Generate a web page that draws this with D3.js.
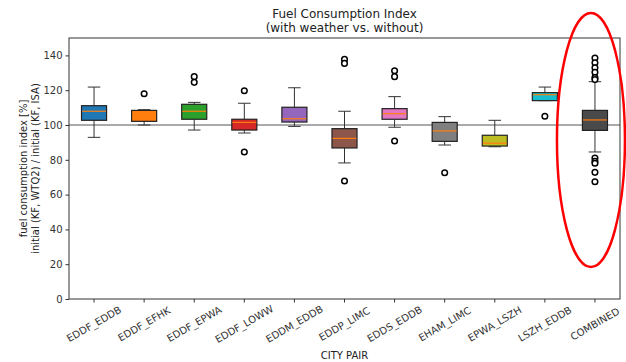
<!DOCTYPE html>
<html>
<head>
<meta charset="utf-8">
<script src="https://cdn.jsdelivr.net/npm/d3@7"></script>
<style>
  body { margin: 0; background: #fff; }
  text { font-family: 'DejaVu Sans', sans-serif; fill: #222; }
</style>
</head>
<body>
<div id="chart"></div>
<script>
const categories = ['EDDF_EDDB', 'EDDF_EFHK', 'EDDF_EPWA', 'EDDF_LOWW', 'EDDM_EDDB', 'EDDP_LIMC',
  'EDDS_EDDB', 'EHAM_LIMC', 'EPWA_LSZH', 'LSZH_EDDB', 'COMBINED']
const whiskerLow = [92.9, 100, 97.1, 95.4, 99.2, 78.2, 98.7, 88.5, 87.5, 114, 84.5]
const q1 = [102.7, 102.1, 103.3, 97.1, 101.7, 86.8, 103.3, 90.6, 87.9, 114, 96.9]
const median = [107.9, 104.4, 107.9, 101.5, 103.6, 92.3, 106.5, 96.6, 89.5, 117.4, 102.9]
const q3 = [111.1, 108.4, 111.9, 103.3, 110.2, 97.9, 109.4, 101.5, 94.1, 118.6, 108.4]
const whiskerHigh = [121.8, 108.8, 113, 112.5, 121.4, 107.9, 116.3, 104.8, 102.7, 121.8, 124.9]
const outliers = [
  [],
  [118],
  [127.8, 124.5],
  [119.7, 84.5],
  [],
  [137.7, 135.4, 67.8],
  [131.2, 127.8, 90.8],
  [72.6],
  [],
  [105],
  [138.5, 135.8, 132.9, 130.3, 127.2, 126.1, 81, 79.1, 78, 72.8, 67.4]
]
const boxColors = ['#1f77b4', '#ff7f0e', '#2ca02c', '#d62728', '#9467bd', '#8c564b',
  '#e377c2', '#7f7f7f', '#bcbd22', '#17becf', '#4a4a4a']
const yTicks = [0, 20, 40, 60, 80, 100, 120, 140]
const referenceLevel = 100

const canvasWidth = 626
const canvasHeight = 362
const margins = {top: 38, right: 6, bottom: 63, left: 69}
const width = canvasWidth - margins.left - margins.right
const height = canvasHeight - margins.top - margins.bottom

const svg = d3.select('#chart')
  .append('svg')
  .attr('width', canvasWidth)
  .attr('height', canvasHeight)

const g = svg.append('g')
  .attr('transform', `translate(${margins.left}, ${margins.top})`)

const xScale = d3.scaleBand()
  .domain(categories)
  .range([0, width])

const yScale = d3.scaleLinear()
  .domain([0, 150])
  .range([height, 0])

const boxWidth = xScale.bandwidth() * 0.5
const capWidth = boxWidth * 0.5

// y axis
const yAxis = g.append('g')
  .call(d3.axisLeft(yScale).tickValues(yTicks).tickSize(3.5).tickPadding(3))
yAxis.select('.domain').remove()
yAxis.selectAll('text').attr('font-size', 10).style('fill', '#333')
yAxis.selectAll('line').attr('stroke', '#333')

// x axis
const xAxis = g.append('g')
  .attr('transform', `translate(0, ${height})`)
  .call(d3.axisBottom(xScale).tickSize(3.5).tickFormat(''))
xAxis.select('.domain').remove()
xAxis.selectAll('line').attr('stroke', '#333')

g.append('g')
  .selectAll('text')
  .data(categories)
  .enter()
  .append('text')
  .attr('transform', d => `translate(${xScale(d) + xScale.bandwidth() / 2}, ${height + 25}) rotate(-30)`)
  .attr('text-anchor', 'middle')
  .attr('dominant-baseline', 'central')
  .attr('font-size', 10)
  .style('fill', '#333')
  .text(d => d)

// reference line at 100
g.append('line')
  .attr('x1', 0)
  .attr('x2', width)
  .attr('y1', yScale(referenceLevel))
  .attr('y2', yScale(referenceLevel))
  .attr('stroke', '#555')
  .attr('stroke-width', 1)

// boxes
const boxes = g.selectAll('g.box')
  .data(categories.map((c, i) => ({c, i})))
  .enter()
  .append('g')
  .attr('class', 'box')
  .attr('transform', d => `translate(${xScale(d.c) + xScale.bandwidth() / 2}, 0)`)

boxes.append('line')
  .attr('y1', d => yScale(q3[d.i]))
  .attr('y2', d => yScale(whiskerHigh[d.i]))
  .attr('stroke', '#333')
boxes.append('line')
  .attr('y1', d => yScale(q1[d.i]))
  .attr('y2', d => yScale(whiskerLow[d.i]))
  .attr('stroke', '#333')
boxes.append('line')
  .attr('x1', -capWidth / 2)
  .attr('x2', capWidth / 2)
  .attr('y1', d => yScale(whiskerHigh[d.i]))
  .attr('y2', d => yScale(whiskerHigh[d.i]))
  .attr('stroke', '#333')
boxes.append('line')
  .attr('x1', -capWidth / 2)
  .attr('x2', capWidth / 2)
  .attr('y1', d => yScale(whiskerLow[d.i]))
  .attr('y2', d => yScale(whiskerLow[d.i]))
  .attr('stroke', '#333')

boxes.append('rect')
  .attr('x', -boxWidth / 2)
  .attr('width', boxWidth)
  .attr('y', d => yScale(q3[d.i]))
  .attr('height', d => yScale(q1[d.i]) - yScale(q3[d.i]))
  .attr('fill', d => boxColors[d.i])
  .attr('stroke', '#222')
  .attr('stroke-width', 1.2)

boxes.append('line')
  .attr('x1', -boxWidth / 2 + 0.6)
  .attr('x2', boxWidth / 2 - 0.6)
  .attr('y1', d => yScale(median[d.i]))
  .attr('y2', d => yScale(median[d.i]))
  .attr('stroke', '#ff7f0e')
  .attr('stroke-width', 1.2)

boxes.selectAll('circle')
  .data(d => outliers[d.i])
  .enter()
  .append('circle')
  .attr('cy', v => yScale(v))
  .attr('r', 2.8)
  .attr('fill', '#fff')
  .attr('stroke', '#000')
  .attr('stroke-width', 1.5)

// frame
g.append('rect')
  .attr('width', width)
  .attr('height', height)
  .attr('fill', 'none')
  .attr('stroke', '#333')
  .attr('stroke-width', 1)

// titles
svg.append('text')
  .attr('x', margins.left + width / 2)
  .attr('y', 18)
  .attr('text-anchor', 'middle')
  .attr('font-size', 12)
  .text('Fuel Consumption Index')
svg.append('text')
  .attr('x', margins.left + width / 2)
  .attr('y', 32)
  .attr('text-anchor', 'middle')
  .attr('font-size', 12)
  .text('(with weather vs. without)')

svg.append('text')
  .attr('x', margins.left + width / 2)
  .attr('y', 359)
  .attr('text-anchor', 'middle')
  .attr('font-size', 10)
  .text('CITY PAIR')

const yLabel = svg.append('text')
  .attr('transform', `translate(26.5, ${margins.top + height / 2}) rotate(-90)`)
  .attr('text-anchor', 'middle')
  .attr('font-size', 10)
yLabel.append('tspan').attr('x', 0).attr('dy', 0).text('fuel consumption index [%]')
yLabel.append('tspan').attr('x', 0).attr('dy', 12).text('initial (KF, WTQ2) / initial (KF, ISA)')

// highlight ellipse around the combined box
svg.append('ellipse')
  .attr('cx', margins.left + xScale('COMBINED') + xScale.bandwidth() / 2 - 4)
  .attr('cy', 140)
  .attr('rx', 34)
  .attr('ry', 127)
  .attr('fill', 'none')
  .attr('stroke', '#f00')
  .attr('stroke-width', 2.5)
</script>
</body>
</html>
